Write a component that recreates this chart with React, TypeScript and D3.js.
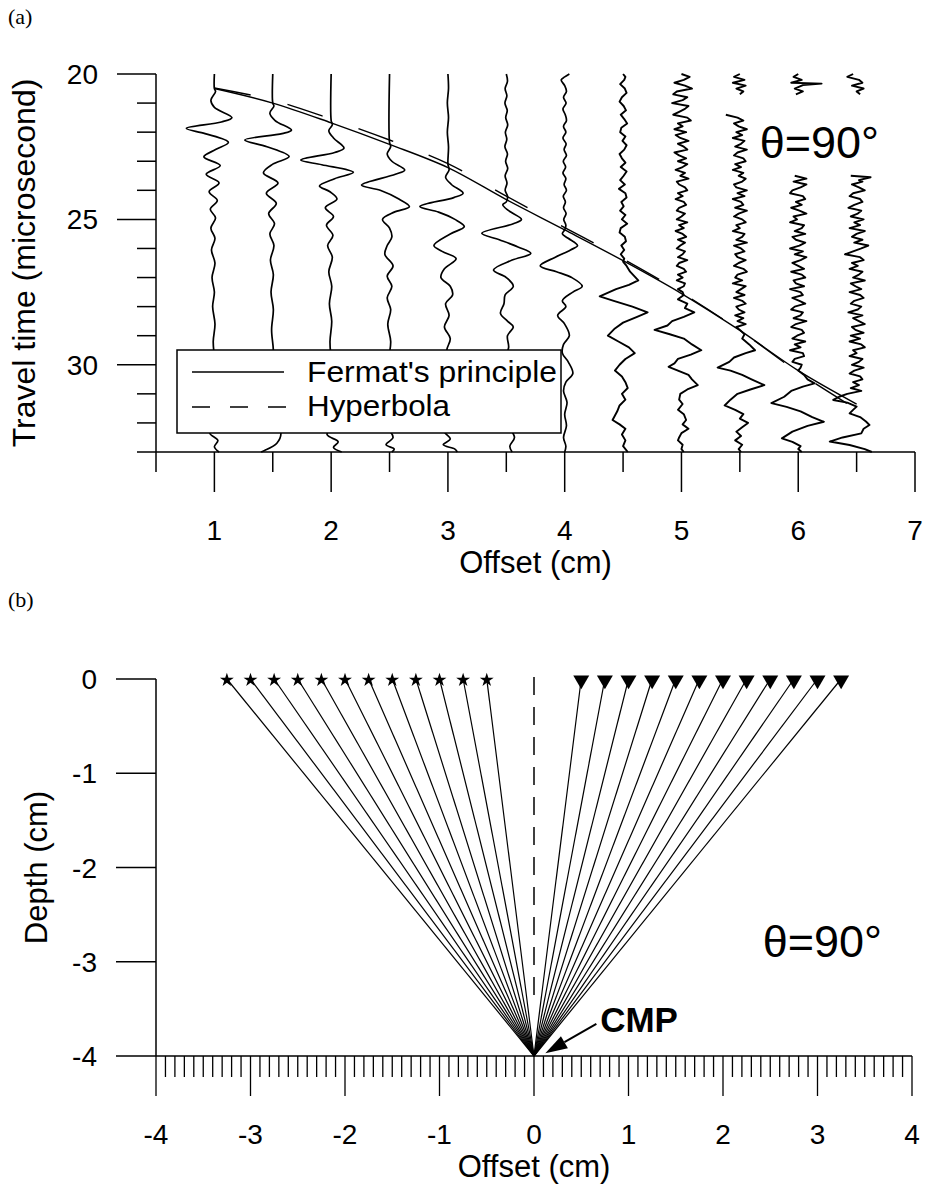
import React from 'react';
import * as d3 from 'd3';

type Pt = [number, number];

// ---------- panel (a): CMP gather, theta = 90 deg ----------
const offsetTicks = [1, 2, 3, 4, 5, 6, 7];
const timeTicks = [20, 25, 30];

// [offset cm, travel time us]
const fermatCurve: Pt[] = [
  [1, 20.5], [1.5, 21.0], [2, 21.68], [2.5, 22.42], [3, 23.22], [3.5, 24.32],
  [4, 25.36], [4.5, 26.42], [5, 27.55], [5.5, 28.82], [6, 30.2], [6.5, 31.35],
];
const hyperbolaCurve: Pt[] = [
  [1, 20.48], [1.5, 20.9], [2, 21.55], [2.5, 22.27], [3, 23.08], [3.5, 24.2],
  [4, 25.28], [4.5, 26.36], [5, 27.52], [5.5, 28.82], [6, 30.26], [6.47, 31.46],
];

// traces: [time us, deflection cm], one array per drawn segment
const trace10: Pt[][] = [[
  [20, 0], [20.5, 0], [20.6, 0.01], [20.9, -0.03], [21.15, 0], [21.5, 0.15], [21.65, 0.06], [21.87, -0.24],
  [22.05, -0.08], [22.35, 0.12], [22.6, 0.01], [22.85, -0.09], [23.15, 0.05], [23.45, -0.07], [23.75, 0.04],
  [24.05, -0.045], [24.35, 0.025], [24.65, -0.035], [24.95, 0.01], [25.3, -0.03], [25.65, 0.005], [26.05, -0.025],
  [26.5, 0.005], [27, -0.02], [27.5, 0], [28, -0.015], [28.6, 0.005], [29.2, -0.01], [29.8, 0], [30.6, 0],
  [31.4, 0], [32, -0.01], [32.35, -0.04], [32.6, 0.03], [32.82, 0], [33, 0.04],
]];
const trace15: Pt[][] = [[
  [20, 0], [21, 0], [21.1, 0.01], [21.35, -0.025], [21.6, 0.02], [21.93, 0.16], [22.05, 0.08], [22.27, -0.24],
  [22.5, -0.05], [22.84, 0.14], [23.1, 0], [23.4, -0.08], [23.75, 0.045], [24.1, -0.055], [24.45, 0.03],
  [24.8, -0.035], [25.15, 0.015], [25.5, -0.025], [25.9, 0.01], [26.4, -0.02], [26.9, 0.005], [27.5, -0.015],
  [28.1, 0.005], [28.8, -0.01], [29.5, 0.005], [30.3, 0], [31.5, 0], [31.9, 0.02], [32.35, 0.07], [32.7, 0.035],
  [32.95, -0.07], [33, -0.1],
]];
const trace20: Pt[][] = [[
  [20, 0], [21.6, 0], [21.75, 0.01], [21.95, -0.02], [22.2, 0.02], [22.55, 0.11], [22.7, 0.03], [22.96, -0.26],
  [23.12, -0.08], [23.38, 0.19], [23.6, 0.03], [23.85, -0.1], [24.05, -0.01], [24.3, 0.05], [24.6, -0.05],
  [24.9, 0.02], [25.2, -0.04], [25.55, 0.015], [25.9, -0.03], [26.3, 0.01], [26.8, -0.02], [27.3, 0.005],
  [27.9, -0.015], [28.5, 0.005], [29.2, -0.01], [29.9, 0], [31.5, 0], [32, 0.01], [32.4, -0.035], [32.65, 0.06],
  [32.84, 0.02], [33, 0.09],
]];
const trace25: Pt[][] = [[
  [20, 0], [22.35, 0], [22.5, 0.01], [22.75, -0.02], [23, 0.02], [23.3, 0.13], [23.45, 0.05], [23.82, -0.24],
  [24, -0.08], [24.3, 0.08], [24.56, 0.17], [24.75, 0.04], [25, -0.06], [25.3, 0], [25.6, 0.02], [25.9, -0.02],
  [26.2, -0.04], [26.6, 0.03], [26.95, -0.02], [27.3, 0.02], [27.7, -0.02], [28.1, 0.01], [28.6, -0.015],
  [29.2, 0.01], [29.8, -0.005], [30.5, 0], [31.5, 0], [32.1, -0.02], [32.5, 0.03], [32.75, -0.03], [32.9, 0.04],
  [33, 0.02],
]];
const trace30: Pt[][] = [[
  [20, 0], [20.5, 0.005], [21, -0.005], [21.5, 0.005], [22, -0.005], [22.5, 0.005], [23.1, 0], [23.3, 0.01],
  [23.55, -0.02], [23.8, 0.03], [24.1, 0.13], [24.25, 0.05], [24.56, -0.24], [24.75, -0.08], [25, 0.06],
  [25.25, 0.14], [25.5, 0.02], [25.9, -0.12], [26.1, -0.05], [26.35, 0.07], [26.7, -0.03], [27, -0.06],
  [27.3, 0.02], [27.6, 0.04], [27.9, -0.02], [28.3, 0.01], [28.7, -0.03], [29.1, 0.02], [29.5, -0.01],
  [29.9, 0.01], [30.5, 0], [31.5, 0], [32, 0.01], [32.3, -0.03], [32.55, 0.02], [32.75, -0.04], [32.9, 0.06],
  [33, 0.08],
]];
const trace35: Pt[][] = [[
  [20, 0], [20.25, 0.01], [20.5, -0.01], [20.75, 0.005], [21, -0.012], [21.25, 0.008], [21.5, -0.005],
  [21.75, 0.012], [22, -0.008], [22.25, 0.004], [22.5, -0.012], [22.75, 0.01], [23, -0.006], [23.25, 0.012],
  [23.5, -0.01], [23.75, 0.006], [24, -0.01], [24.2, 0.01], [24.4, 0], [24.5, -0.03], [24.7, 0.02], [25, 0.13],
  [25.15, 0.06], [25.48, -0.21], [25.7, -0.06], [25.95, 0.1], [26.17, 0.21], [26.4, 0.05], [26.74, -0.11],
  [27, 0], [27.3, 0.06], [27.6, -0.01], [27.9, -0.02], [28.23, -0.05], [28.5, 0.01], [28.7, 0.06], [29, 0.01],
  [29.4, 0.02], [29.8, -0.01], [30.3, 0.01], [31, 0], [31.8, 0], [32.1, 0.02], [32.5, 0.07], [32.8, 0.03], [33, 0.05],
]];
const trace40: Pt[][] = [[
  [20, 0.04], [20.1, 0], [20.2, -0.03], [20.4, 0], [20.6, 0.015], [20.8, -0.01], [21, 0.012], [21.2, -0.015],
  [21.4, 0.005], [21.6, 0.015], [21.8, -0.01], [22, 0.01], [22.2, -0.015], [22.4, 0.012], [22.6, -0.005],
  [22.8, 0.015], [23, -0.012], [23.2, 0.008], [23.4, -0.015], [23.6, 0.01], [23.8, -0.005], [24, 0.015],
  [24.2, -0.012], [24.4, 0.006], [24.6, -0.01], [24.8, 0.012], [25, -0.008], [25.2, 0.01], [25.36, 0],
  [25.5, -0.02], [25.65, 0.03], [25.9, 0.11], [26.05, 0.05], [26.3, -0.08], [26.6, -0.21], [26.8, -0.07],
  [27, 0.06], [27.3, 0.15], [27.5, 0.07], [27.8, -0.02], [28, 0.01], [28.3, -0.06], [28.6, 0], [29, 0.04],
  [29.3, -0.01], [29.6, -0.02], [29.9, 0.03], [30.3, 0.07], [30.6, 0.01], [30.9, -0.01], [31.3, 0.02],
  [31.7, 0], [32.1, 0.015], [32.5, -0.01], [32.8, 0.01], [33, 0],
]];
const trace45: Pt[][] = [[
  [20, 0], [20.1, 0.02], [20.2, 0.01], [20.35, -0.025], [20.5, 0.015], [20.65, 0.03], [20.8, -0.01], [20.95, -0.03],
  [21.1, 0.005], [21.25, 0.025], [21.4, -0.02], [21.55, 0.01], [21.7, 0.035], [21.85, -0.015], [22, -0.025],
  [22.15, 0.02], [22.3, -0.005], [22.45, 0.03], [22.6, 0.01], [22.75, -0.03], [22.9, -0.01], [23.05, 0.02],
  [23.2, -0.02], [23.35, 0.03], [23.5, 0.005], [23.65, -0.025], [23.8, 0.015], [23.95, -0.035], [24.1, 0.02],
  [24.25, 0.03], [24.4, -0.015], [24.55, 0.005], [24.7, -0.025], [24.85, 0.02], [25, -0.01], [25.15, 0.035],
  [25.3, -0.02], [25.45, -0.03], [25.6, 0.015], [25.75, 0.025], [25.9, -0.015], [26.05, 0.01], [26.2, -0.02],
  [26.35, 0.01], [26.45, 0], [26.6, 0.03], [26.8, 0.06], [27.1, 0.13], [27.25, 0.05],
  [27.4, -0.06], [27.65, -0.2], [27.8, -0.08], [28, 0.08], [28.2, 0.21], [28.35, 0.12], [28.55, 0],
  [28.75, -0.07], [29, -0.13], [29.2, -0.04], [29.4, 0.05], [29.6, 0.1], [29.8, 0.02], [30, -0.03],
  [30.2, -0.07], [30.4, -0.01], [30.6, 0.02], [30.8, 0.04], [31, -0.01], [31.2, 0.02], [31.4, -0.03],
  [31.6, -0.05], [31.9, -0.09], [32.05, -0.03], [32.2, 0.02], [32.4, -0.01], [32.6, 0.02], [32.8, 0], [33, 0.04],
]];
const trace50: Pt[][] = [[
  [20, 0], [20.1, 0.07], [20.2, 0.02], [20.3, -0.06], [20.4, 0.03], [20.5, 0.09], [20.6, -0.04], [20.7, -0.07],
  [20.8, 0.05], [20.9, 0.01], [21, -0.08], [21.1, 0.06], [21.2, 0.03], [21.3, -0.02], [21.4, -0.07], [21.5, 0.05],
  [21.6, 0.08], [21.7, -0.03], [21.8, 0.01], [21.9, -0.06], [22, 0.04], [22.1, -0.05], [22.2, -0.01], [22.3, 0.06],
  [22.4, -0.03], [22.5, 0.02], [22.6, 0.05], [22.7, -0.06], [22.8, -0.02], [22.9, 0.04], [23, -0.03], [23.1, 0.05],
  [23.2, 0.01], [23.3, -0.05], [23.4, 0.03], [23.5, -0.01], [23.6, 0.06], [23.7, -0.04], [23.8, -0.02], [23.9, 0.03],
  [24, 0.05], [24.1, -0.03], [24.2, 0.01], [24.3, -0.05], [24.4, 0.02], [24.5, 0.04], [24.6, -0.02], [24.7, -0.04],
  [24.8, 0.03], [24.9, 0], [25, -0.04], [25.1, 0.05], [25.2, -0.02], [25.3, 0.02], [25.4, -0.05], [25.5, 0.01],
  [25.6, 0.04], [25.7, -0.03], [25.8, 0.03], [25.9, -0.01], [26, -0.04], [26.1, 0.03], [26.2, 0.01], [26.3, -0.03],
  [26.4, 0.05], [26.5, -0.02], [26.6, -0.04], [26.7, 0.02], [26.8, 0.04], [26.9, -0.03], [27, 0.01], [27.1, -0.04],
  [27.2, 0.03], [27.3, 0.02], [27.4, -0.03], [27.5, 0.01], [27.6, 0.02], [27.75, -0.03], [27.9, 0.05],
  [28.05, 0.03], [28.2, 0.11], [28.35, 0.02], [28.5, -0.08], [28.65, -0.12], [28.8, -0.23], [28.95, -0.1],
  [29.1, 0.02], [29.3, 0.09], [29.5, 0.17], [29.65, 0.08], [29.8, -0.03], [29.95, -0.06], [30.07, -0.11],
  [30.2, -0.03], [30.35, 0.06], [30.5, 0.09], [30.7, 0.14], [30.85, 0.05], [31, -0.01], [31.2, -0.02],
  [31.35, 0.01], [31.55, -0.03], [31.7, 0.02], [31.9, 0.04], [32.05, 0.01], [32.2, 0.06], [32.35, 0],
  [32.5, -0.02], [32.6, -0.03], [32.75, 0.01], [32.9, 0], [33, 0.02],
]];
const trace55: Pt[][] = [
  [[20, 0], [20.1, -0.05], [20.2, 0.04], [20.3, -0.06], [20.4, 0.05], [20.5, -0.03], [20.6, 0.03], [20.7, 0]],
  [
    [21.4, -0.12], [21.5, -0.02], [21.6, 0.03], [21.7, -0.05], [21.8, -0.01], [21.9, 0.06], [22, -0.03], [22.1, 0.02],
    [22.2, -0.06], [22.3, 0.04], [22.4, 0.01], [22.5, -0.04], [22.6, 0.06], [22.7, -0.02], [22.8, -0.05], [22.9, 0.03],
    [23, 0.05], [23.1, -0.04], [23.2, 0.01], [23.3, -0.06], [23.4, 0.03], [23.5, -0.01], [23.6, 0.05], [23.7, 0.02],
    [23.8, -0.05], [23.9, -0.03], [24, 0.06], [24.1, -0.02], [24.2, 0.04], [24.3, -0.06], [24.4, 0.01], [24.5, 0.03],
    [24.6, -0.04], [24.7, 0.06], [24.8, -0.01], [24.9, -0.05], [25, 0.02], [25.1, 0.05], [25.2, -0.03], [25.3, 0],
    [25.4, -0.06], [25.5, 0.04], [25.6, 0.02], [25.7, -0.03], [25.8, 0.06], [25.9, -0.05], [26, 0.01], [26.1, 0.04],
    [26.2, -0.04], [26.3, -0.02], [26.4, 0.05], [26.5, -0.01], [26.6, -0.05], [26.7, 0.03], [26.8, 0.06], [26.9, -0.02],
    [27, -0.04], [27.1, 0.02], [27.2, -0.06], [27.3, 0.05], [27.4, 0.01], [27.5, -0.03], [27.6, 0.04], [27.7, -0.05],
    [27.8, 0.02], [27.9, 0.05], [28, -0.03], [28.1, -0.01], [28.2, 0.04], [28.3, -0.04], [28.4, 0.03], [28.5, -0.02],
    [28.6, 0.05], [28.7, -0.03], [28.8, 0], [28.95, 0.04], [29.1, 0.02], [29.3, 0.08], [29.5, 0.13], [29.6, 0.05],
    [29.75, -0.05], [29.9, -0.09], [30.1, -0.19], [30.2, -0.08], [30.35, 0.02], [30.5, 0.1], [30.7, 0.21],
    [30.85, 0.09], [31, -0.02], [31.2, -0.08], [31.4, -0.13], [31.55, -0.04], [31.7, 0.03], [31.85, 0],
    [32, 0.07], [32.15, 0.02], [32.3, -0.03], [32.45, 0.01], [32.6, -0.04], [32.75, 0.02], [32.9, -0.01], [33, 0.01],
  ],
];
const trace60: Pt[][] = [
  [[20, 0], [20.1, -0.04], [20.2, 0.03], [20.3, -0.06], [20.33, 0.2], [20.38, 0.04], [20.5, -0.03], [20.6, 0.04], [20.7, -0.02]],
  [
    [23.5, -0.03], [23.6, 0.07], [23.7, -0.04], [23.8, 0.07], [23.9, 0.02], [24, -0.05], [24.1, -0.07], [24.2, 0.04],
    [24.3, 0.06], [24.4, -0.02], [24.5, 0.03], [24.6, -0.06], [24.7, 0.01], [24.8, 0.07], [24.9, -0.04], [25, -0.01],
    [25.1, -0.07], [25.2, 0.05], [25.3, 0.03], [25.4, -0.03], [25.5, 0.06], [25.6, -0.05], [25.7, -0.02], [25.8, 0.06],
    [25.9, 0.01], [26, -0.07], [26.1, 0.04], [26.2, -0.03], [26.3, 0.07], [26.4, 0.02], [26.5, -0.05], [26.6, 0],
    [26.7, 0.05], [26.8, -0.06], [26.9, 0.03], [27, 0.06], [27.1, -0.04], [27.2, -0.02], [27.3, 0.05], [27.4, -0.07],
    [27.5, 0.02], [27.6, 0.04], [27.7, -0.05], [27.8, 0.01], [27.9, 0.06], [28, -0.03], [28.1, -0.06], [28.2, 0.04],
    [28.3, 0.02], [28.4, -0.04], [28.5, 0.07], [28.6, -0.02], [28.7, -0.06], [28.8, 0.03], [28.9, 0.05], [29, -0.01],
    [29.1, -0.05], [29.2, 0.06], [29.3, -0.03], [29.4, 0.02], [29.5, -0.07], [29.6, 0.04], [29.7, 0.05], [29.8, -0.03],
    [29.9, -0.05], [30, 0.03], [30.1, 0.02], [30.2, 0], [30.35, 0.05], [30.5, 0.08], [30.64, 0.14], [30.75, 0.04],
    [30.9, -0.06], [31.1, -0.12], [31.32, -0.23], [31.45, -0.1], [31.6, 0.02], [31.8, 0.12], [31.96, 0.22],
    [32.1, 0.08], [32.3, -0.05], [32.53, -0.14], [32.65, -0.05], [32.8, 0.02], [32.9, 0], [33, 0.03],
  ],
];
const trace65: Pt[][] = [
  [[20, -0.03], [20.1, -0.08], [20.2, 0.02], [20.3, 0.05], [20.4, -0.04], [20.5, 0.06], [20.6, 0], [20.7, 0.03]],
  [
    [23.5, -0.05], [23.55, 0.12], [23.65, 0.02], [23.7, 0.05], [23.8, -0.04], [23.9, 0.02], [24, 0.07], [24.1, -0.03],
    [24.2, -0.06], [24.3, 0.03], [24.4, 0.05], [24.5, -0.02], [24.6, -0.07], [24.7, 0.04], [24.8, 0.01], [24.9, -0.05],
    [25, 0.06], [25.1, -0.02], [25.2, 0.03], [25.3, -0.06], [25.4, 0.07], [25.5, 0], [25.6, -0.04], [25.7, 0.05],
    [25.8, -0.02], [25.9, 0.1], [26, 0.04], [26.1, -0.03], [26.2, -0.1], [26.3, 0.03], [26.4, 0.06], [26.5, -0.04],
    [26.6, 0.01], [26.7, -0.06], [26.8, 0.05], [26.9, 0.02], [27, -0.03], [27.1, 0.07], [27.2, -0.05], [27.3, -0.01],
    [27.4, 0.04], [27.5, -0.06], [27.6, 0.03], [27.7, 0.06], [27.8, -0.02], [27.9, -0.05], [28, 0.04], [28.1, 0.01],
    [28.2, -0.07], [28.3, 0.05], [28.4, -0.03], [28.5, 0.02], [28.6, 0.07], [28.7, -0.04], [28.8, -0.01], [28.9, 0.06],
    [29, -0.05], [29.1, 0.03], [29.2, -0.06], [29.3, 0.04], [29.4, 0.07], [29.5, -0.03], [29.6, 0], [29.7, -0.06],
    [29.8, 0.05], [29.9, 0.02], [30, -0.04], [30.1, 0.06], [30.2, -0.02], [30.3, -0.06], [30.4, 0.03], [30.5, 0.05],
    [30.6, -0.03], [30.7, 0.02], [30.8, -0.05], [30.9, 0.04], [31, -0.08], [31.1, -0.15], [31.21, -0.2],
    [31.3, -0.08], [31.44, 0], [31.55, -0.03], [31.67, -0.06], [31.8, 0.03], [31.95, 0.08], [32.07, 0.11],
    [32.2, 0.06], [32.36, 0.04], [32.5, -0.12], [32.64, -0.23], [32.76, -0.06], [32.9, 0.07], [33, 0.13],
  ],
];

const traces = [
  { offset: 1.0, segs: trace10, smooth: true },
  { offset: 1.5, segs: trace15, smooth: true },
  { offset: 2.0, segs: trace20, smooth: true },
  { offset: 2.5, segs: trace25, smooth: true },
  { offset: 3.0, segs: trace30, smooth: true },
  { offset: 3.5, segs: trace35, smooth: true },
  { offset: 4.0, segs: trace40, smooth: true },
  { offset: 4.5, segs: trace45, smooth: false },
  { offset: 5.0, segs: trace50, smooth: false },
  { offset: 5.5, segs: trace55, smooth: false },
  { offset: 6.0, segs: trace60, smooth: false },
  { offset: 6.5, segs: trace65, smooth: false },
];

// ---------- panel (b): ray geometry ----------
const offsetTicksB = [-4, -3, -2, -1, 0, 1, 2, 3, 4];
const depthTicks = [0, -1, -2, -3, -4];
const sources = [-3.25, -3, -2.75, -2.5, -2.25, -2, -1.75, -1.5, -1.25, -1, -0.75, -0.5];
const receivers = [0.5, 0.75, 1, 1.25, 1.5, 1.75, 2, 2.25, 2.5, 2.75, 3, 3.25];
const cmp: Pt = [0, -4];
const verticalLine: Pt[] = [[0, 0.02], [0, -3.45]];

const W = 926;
const H = 1189;
const xA = d3.scaleLinear().domain([0.5, 7]).range([156, 915]);
const yA = d3.scaleLinear().domain([20, 33]).range([74, 452]);
const xB = d3.scaleLinear().domain([-4, 4]).range([156, 912]);
const yB = d3.scaleLinear().domain([-4, 0]).range([1056, 679]);

const sans = "'Liberation Sans', Arial, Helvetica, sans-serif";
const serif = "'Liberation Serif', 'Times New Roman', serif";

export default function App() {
  const traceLine = (offset: number, smooth: boolean) =>
    d3
      .line<Pt>()
      .x((d) => xA(offset + d[1]))
      .y((d) => yA(d[0]))
      .curve(smooth ? d3.curveCatmullRom.alpha(0.5) : d3.curveLinear);

  const curveA = d3
    .line<Pt>()
    .x((d) => xA(d[0]))
    .y((d) => yA(d[1]))
    .curve(d3.curveCatmullRom.alpha(0.5));

  const minorA = xA.ticks(13);
  const minorTA = yA.ticks(13);
  const minorB = xB.ticks(80);
  const yAxisBottom = yA(33);
  const xAxisB = yB(-4);

  // CMP arrow built from anchor points in data units
  const tail: Pt = [xB(0.66), yB(-3.66)];
  const tip: Pt = [xB(0.12), yB(-3.97)];
  const len = Math.hypot(tip[0] - tail[0], tip[1] - tail[1]);
  const ux = (tip[0] - tail[0]) / len;
  const uy = (tip[1] - tail[1]) / len;
  const base: Pt = [tip[0] - 22 * ux, tip[1] - 22 * uy];
  const head = `M${tip[0]},${tip[1]}L${base[0] - 7 * uy},${base[1] + 7 * ux}L${base[0] + 7 * uy},${base[1] - 7 * ux}Z`;

  const star = d3.symbol(d3.symbolStar, 60)() as string;
  const tri = d3.symbol(d3.symbolTriangle, 110)() as string;

  return (
    <svg
      width={W}
      height={H}
      viewBox={`0 0 ${W} ${H}`}
      style={{ position: 'absolute', left: 0, top: 0, background: '#fff' }}
      fontFamily={sans}
    >
      <rect width={W} height={H} fill="#fff" />
      <text x={8} y={24} fontFamily={serif} fontSize={22}>(a)</text>
      <text x={8} y={607} fontFamily={serif} fontSize={22}>(b)</text>

      {/* ---------- panel (a) ---------- */}
      <g fill="none" stroke="#000" strokeLinejoin="round">
        {traces.map((tr) =>
          tr.segs.map((seg, i) => (
            <path
              key={`${tr.offset}-${i}`}
              d={traceLine(tr.offset, tr.smooth)(seg) || ''}
              strokeWidth={tr.smooth ? 1.7 : 1.9}
            />
          ))
        )}
        <path d={curveA(fermatCurve) || ''} strokeWidth={1.4} />
        <path d={curveA(hyperbolaCurve) || ''} strokeWidth={1.4} strokeDasharray="37 38" />
      </g>

      <g stroke="#000" strokeWidth={1.5}>
        <line x1={xA(0.5)} x2={xA(0.5)} y1={yA(20)} y2={yA(33)} />
        <line x1={xA(0.5)} x2={xA(7)} y1={yAxisBottom} y2={yAxisBottom} />
        {minorTA.map((t) => (
          <line key={`ty${t}`} x1={xA(0.5) - (t % 5 === 0 ? 39 : 19)} x2={xA(0.5)} y1={yA(t)} y2={yA(t)} />
        ))}
        {minorA.map((v) => (
          <line key={`tx${v}`} x1={xA(v)} x2={xA(v)} y1={yAxisBottom} y2={yAxisBottom + (Number.isInteger(v) ? 40 : 20)} />
        ))}
      </g>
      <g fontSize={28} fill="#000">
        {timeTicks.map((t) => (
          <text key={`ly${t}`} x={98} y={yA(t)} dy="0.36em" textAnchor="end">{t}</text>
        ))}
        {offsetTicks.map((v) => (
          <text key={`lx${v}`} x={xA(v)} y={yAxisBottom + 88} textAnchor="middle">{v}</text>
        ))}
      </g>
      <text x={(xA(0.5) + xA(7)) / 2} y={yAxisBottom + 121} fontSize={31} textAnchor="middle">Offset (cm)</text>
      <text
        transform={`translate(35,${(yA(20) + yA(33)) / 2}) rotate(-90)`}
        fontSize={32}
        textAnchor="middle"
      >
        Travel time (microsecond)
      </text>

      {/* legend */}
      <g>
        <rect x={177} y={350} width={384} height={83} fill="#fff" stroke="#000" strokeWidth={1.5} />
        <line x1={192} x2={284} y1={372} y2={372} stroke="#000" strokeWidth={1.5} />
        <line x1={192} x2={286} y1={407} y2={407} stroke="#000" strokeWidth={1.6} strokeDasharray="18 20" />
        <text x={307} y={382} fontSize={29} textLength={250} lengthAdjust="spacingAndGlyphs">Fermat's principle</text>
        <text x={307} y={416} fontSize={29} textLength={143} lengthAdjust="spacingAndGlyphs">Hyperbola</text>
      </g>
      <text x={xA(5.67)} y={yA(22.89)} fontSize={45}>θ=90°</text>

      {/* ---------- panel (b) ---------- */}
      <g stroke="#000" strokeWidth={1.2}>
        {sources.map((s) => (
          <line key={`s${s}`} x1={xB(s)} y1={yB(0)} x2={xB(cmp[0])} y2={yB(cmp[1])} />
        ))}
        {receivers.map((r) => (
          <line key={`r${r}`} x1={xB(cmp[0])} y1={yB(cmp[1])} x2={xB(r)} y2={yB(0)} />
        ))}
      </g>
      <line
        x1={xB(verticalLine[0][0])}
        x2={xB(verticalLine[1][0])}
        y1={yB(verticalLine[0][1])}
        y2={yB(verticalLine[1][1])}
        stroke="#000"
        strokeWidth={1.5}
        strokeDasharray="18 12"
      />
      <g fill="#000">
        {sources.map((s) => (
          <path key={`ps${s}`} d={star} transform={`translate(${xB(s)},${yB(0) + 1})`} />
        ))}
        {receivers.map((r) => (
          <path key={`pr${r}`} d={tri} transform={`translate(${xB(r)},${yB(0) + 1}) rotate(180)`} />
        ))}
      </g>

      <g stroke="#000" strokeWidth={1.5}>
        <line x1={xB(-4)} x2={xB(-4)} y1={yB(0)} y2={xAxisB} />
        <line x1={xB(-4)} x2={xB(4)} y1={xAxisB} y2={xAxisB} />
        {depthTicks.map((d) => (
          <line key={`dy${d}`} x1={xB(-4) - 40} x2={xB(-4)} y1={yB(d)} y2={yB(d)} />
        ))}
        {minorB.map((v) => (
          <line
            key={`bx${v}`}
            x1={xB(v)}
            x2={xB(v)}
            y1={xAxisB}
            y2={xAxisB + (Math.abs(v - Math.round(v)) < 1e-6 ? 40 : 21)}
            strokeWidth={1.3}
          />
        ))}
      </g>
      <g fontSize={28} fill="#000">
        {depthTicks.map((d) => (
          <text key={`ld${d}`} x={97} y={yB(d)} dy="0.36em" textAnchor="end">{d}</text>
        ))}
        {offsetTicksB.map((v) => (
          <text key={`lb${v}`} x={xB(v)} y={xAxisB + 88} textAnchor="middle">{v}</text>
        ))}
      </g>
      <text x={(xB(-4) + xB(4)) / 2} y={xAxisB + 121} fontSize={31} textAnchor="middle">Offset (cm)</text>
      <text transform={`translate(47,${(yB(0) + yB(-4)) / 2}) rotate(-90)`} fontSize={31} textAnchor="middle">
        Depth (cm)
      </text>

      <line x1={tail[0]} y1={tail[1]} x2={base[0]} y2={base[1]} stroke="#000" strokeWidth={2} />
      <path d={head} fill="#000" />
      <text x={xB(0.7)} y={yB(-3.745)} fontSize={35} fontWeight="bold">CMP</text>
      <text x={xB(2.42)} y={yB(-2.95)} fontSize={45}>θ=90°</text>
    </svg>
  );
}
